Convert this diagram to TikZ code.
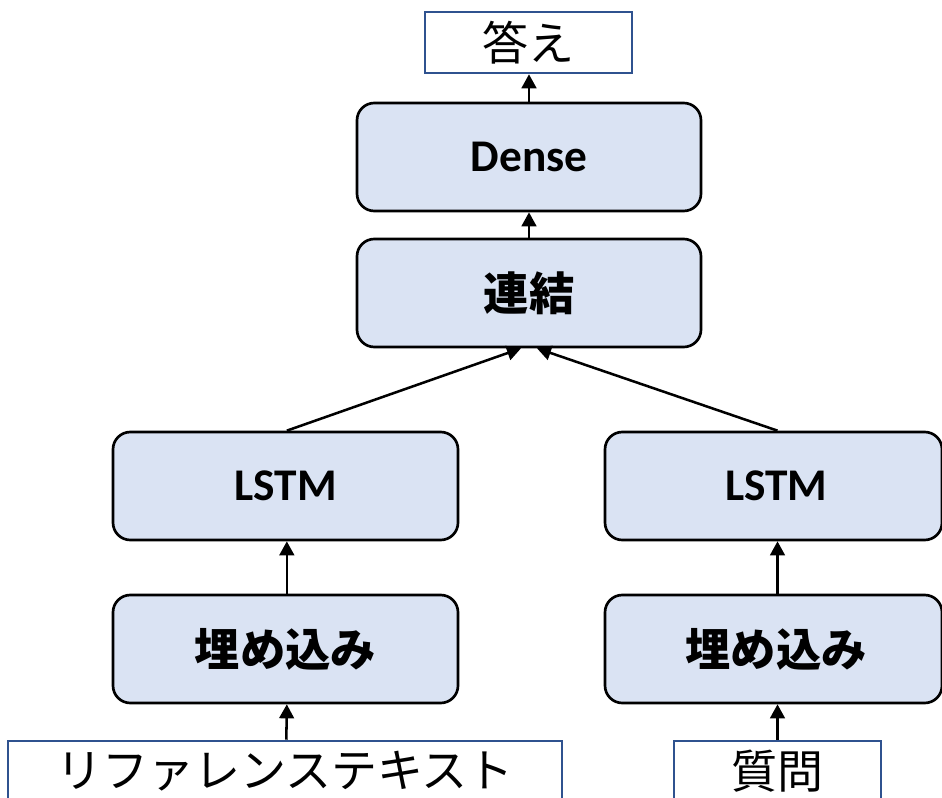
\documentclass[tikz,border=0pt]{standalone}
\usepackage{fontspec}
\setmainfont{Carlito}
\newfontfamily\jp{Noto Sans CJK JP}
\usetikzlibrary{arrows.meta,calc}
\definecolor{boxfill}{RGB}{218,227,243}
\definecolor{outline}{RGB}{47,82,143}
\begin{document}
\begin{tikzpicture}[x=0.75pt,y=-0.75pt,
  layer/.style={draw=black,line width=2pt,fill=boxfill,rounded corners=13pt,
    minimum height=81pt,inner sep=0pt,font=\fontsize{34}{40}\selectfont\bfseries},
  io/.style={draw=outline,line width=1.9pt,fill=white,minimum height=45.75pt,
    inner sep=0pt,font=\jp\fontsize{34.5}{40}\selectfont},
  arr/.style={line width=1.9pt,-{Triangle[width=11pt,length=10.5pt]}}]
\useasboundingbox (0,0) rectangle (942,798);
\node[io,minimum width=155.25pt] (ans) at (528.5,42.5) {答え};
\node[layer,minimum width=258pt] (dense) at (529,157) {Dense};
\node[layer,minimum width=258pt] (concat) at (529,293) {\jp\bfseries 連結};
\node[layer,minimum width=258.75pt] (lstmL) at (285.5,486) {LSTM};
\node[layer,minimum width=252.75pt] (lstmR) at (773.5,486) {\hspace*{4pt}LSTM};
\node[layer,minimum width=258.75pt] (embL) at (285.5,649) {\jp\bfseries 埋め込み};
\node[layer,minimum width=252.75pt] (embR) at (773.5,649) {\hspace*{4pt}\jp\bfseries 埋め込み};
\node[io,minimum width=415.5pt] (ref) at (285,771.5) {リファレンステキスト};
\node[io,minimum width=155.25pt] (q) at (777.5,771.5) {質問};
\draw[arr] (dense.north) -- (dense.north |- ans.south);
\draw[arr] (concat.north) -- (dense.south);
\draw[arr] ([xshift=1pt]lstmL.north) -- ([xshift=-6pt]concat.south);
\draw[arr] ([xshift=3pt]lstmR.north) -- ([xshift=6pt]concat.south);
\draw[arr] ([xshift=1pt]embL.north) -- ([xshift=1pt]lstmL.south);
\draw[arr] (embR.north -| q.north) -- (lstmR.south -| q.north);
\draw[arr] ([xshift=1pt]ref.north) -- ([xshift=1pt]embL.south);
\draw[arr] (q.north) -- (q.north |- embR.south);
\end{tikzpicture}
\end{document}
